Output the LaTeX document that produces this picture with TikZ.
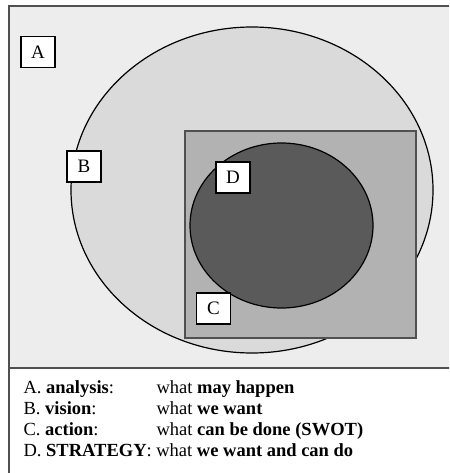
\documentclass[tikz,border=0pt]{standalone}
\usepackage{fontspec}
\setmainfont{Liberation Serif}

\definecolor{fillA}{HTML}{EDEDED}
\definecolor{fillB}{HTML}{DADADA}
\definecolor{fillC}{HTML}{B2B2B2}
\definecolor{fillD}{HTML}{5A5A5A}
\definecolor{frameGray}{HTML}{505050}

\tikzset{
  letterbox/.style={draw=black, fill=white, line width=1.2pt, minimum width=34pt,
    minimum height=31pt, inner sep=0pt, font=\fontsize{19}{19}\selectfont},
  legend/.style={anchor=base west, inner sep=0pt, font=\fontsize{18.5}{21}\selectfont}
}

\begin{document}
\begin{tikzpicture}[x=1pt, y=-1pt, line width=1.2pt]
\useasboundingbox (0,0) rectangle (449,473);
\clip (0,0) rectangle (449,473);

% region A and frame
\fill[fillA] (9,6) rectangle (455,368);
\draw[frameGray, line width=2pt] (9,480) -- (9,6) -- (455,6);
\draw[frameGray, line width=2pt] (9,368) -- (455,368);

% B, C, D
\draw[fill=fillB] (252,190) ellipse [x radius=181, y radius=163];
\draw[fill=fillC, draw=frameGray] (185,131) rectangle (416,338);
\draw[fill=fillD] (281.5,225.5) ellipse [x radius=91.5, y radius=82.5];

% labels
\node[letterbox] (lA) at (38,52)    {A};
\node[letterbox] (lB) at (84,166.5) {B};
\node[letterbox] (lD) at (233,177.5) {D};
\node[letterbox] (lC) at (213.5,308.5) {C};

% legend
\node[legend] (kA) at (23,393) {A. \textbf{analysis}:};
\node[legend] (kB) at (23,414) {B. \textbf{vision}:};
\node[legend] (kC) at (23,435) {C. \textbf{action}:};
\node[legend] (kD) at (23,456) {D. \textbf{STRATEGY}: what \textbf{we want and can do}};
\node[legend] (vA) at (156,393) {what \textbf{may happen}};
\node[legend] (vB) at (156,414) {what \textbf{we want}};
\node[legend] (vC) at (156,435) {what \textbf{can be done (SWOT)}};

\end{tikzpicture}
\end{document}
